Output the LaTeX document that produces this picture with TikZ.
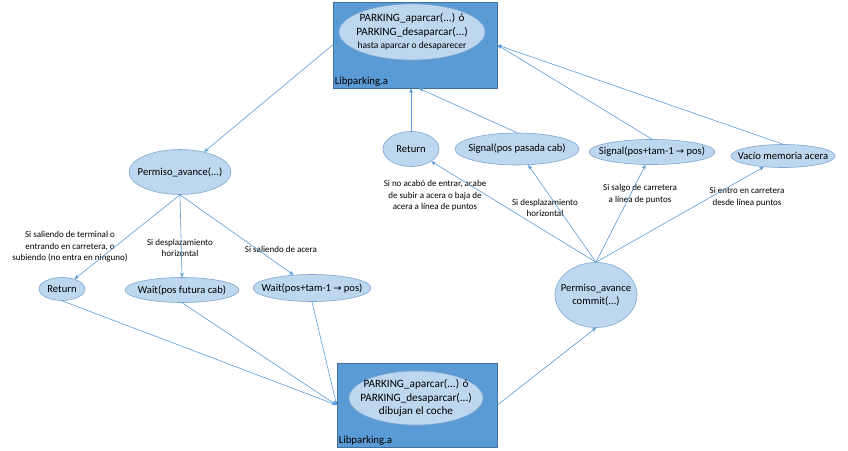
\documentclass[tikz,border=0pt]{standalone}
\usepackage{fontspec}
\setmainfont{Carlito}
\newfontfamily\arrowfont{DejaVu Sans}
\usetikzlibrary{shapes.geometric,arrows.meta,calc}
\definecolor{boxblue}{HTML}{5B9BD5}
\definecolor{boxedge}{HTML}{41719C}
\definecolor{ellfill}{HTML}{BDD7EE}
\definecolor{elledge}{HTML}{7FA7D4}
\definecolor{linkc}{HTML}{5B9BD5}
\tikzset{
  libbox/.style={draw=boxedge, line width=0.8pt, fill=boxblue, rectangle, inner sep=0pt},
  oval/.style={ellipse, draw=elledge, line width=0.6pt, fill=ellfill, inner sep=0pt},
  ovaltext/.style={align=center, inner sep=0pt, font=\fontsize{10.6}{13}\selectfont},
  bigtext/.style={align=center, inner sep=0pt, font=\fontsize{11.2}{13.5}\selectfont},
  cond/.style={align=center, inner sep=0pt, font=\fontsize{9}{11.5}\selectfont},
  libtag/.style={anchor=south west, inner sep=2pt, font=\fontsize{10.8}{12}\selectfont},
  link/.style={draw=linkc, line width=0.6pt, -{Stealth[length=4.5pt,width=4pt]}},
}
\newcommand{\arr}{{\arrowfont\fontsize{9.5}{10}\selectfont →}}
\begin{document}
\begin{tikzpicture}[x=1pt,y=-1pt]
\useasboundingbox (0,0) rectangle (848,450);
% library boxes
\node[libbox, minimum width=164pt, minimum height=86pt] (topbox) at (415,45) {};
\node[oval, minimum width=146pt, minimum height=56pt,
  label={[bigtext]center:{PARKING\_aparcar(...) ó\\PARKING\_desaparcar(...)\\{\fontsize{9.5}{11}\selectfont hasta aparcar o desaparecer}}}] (topoval) at (412,32) {};
\node[libtag] (toptag) at (topbox.south west) {Libparking.a};

\node[libbox, minimum width=160pt, minimum height=84pt] (botbox) at (417,405) {};
\node[oval, minimum width=134pt, minimum height=54pt,
  label={[bigtext]center:{PARKING\_aparcar(...) ó\\PARKING\_desaparcar(...)\\dibujan el coche}}] (botoval) at (416,398) {};
\node[libtag] (bottag) at (botbox.south west) {Libparking.a};

% left branch
\node[oval, minimum width=102pt, minimum height=45pt, label={[ovaltext]center:{Permiso\_avance(...)}}] (perm) at (180,172) {};
\node[oval, minimum width=46pt, minimum height=23pt, label={[ovaltext]center:{Return}}] (retl) at (62,289) {};
\node[oval, minimum width=114pt, minimum height=25pt, label={[ovaltext]center:{Wait(pos futura cab)}}] (waitl) at (182,290) {};
\node[oval, minimum width=118pt, minimum height=27pt, label={[ovaltext]center:{Wait(pos+tam-1 \arr{} pos)}}] (waitr) at (312,288) {};

% right branch
\node[oval, minimum width=82pt, minimum height=65pt, label={[ovaltext]center:{Permiso\_avance\\commit(...)}}] (commit) at (596,295) {};
\node[oval, minimum width=56pt, minimum height=35pt, label={[ovaltext]center:{Return}}] (retr) at (411,149) {};
\node[oval, minimum width=124pt, minimum height=32pt, label={[ovaltext]center:{Signal(pos pasada cab)}}] (sigp) at (517,149) {};
\node[oval, minimum width=126pt, minimum height=25pt, label={[ovaltext]center:{Signal(pos+tam-1 \arr{} pos)}}] (sigt) at (652,152) {};
\node[oval, minimum width=104pt, minimum height=23pt, label={[ovaltext]center:{Vacío memoria acera}}] (vac) at (783,156) {};

% conditions
\node[cond] (c1) at (70,247) {Si saliendo de terminal o\\entrando en carretera, o\\subiendo (no entra en ninguno)};
\node[cond] (c2) at (180,248) {Si desplazamiento\\horizontal};
\node[cond] (c3) at (281,249) {Si saliendo de acera};
\node[cond] (c4) at (435,196) {Si no acabó de entrar, acabe\\de subir a acera o baja de\\acera a línea de puntos};
\node[cond] (c5) at (545,208) {Si desplazamiento\\horizontal};
\node[cond] (c6) at (640,194) {Si salgo de carretera\\a línea de puntos};
\node[cond] (c7) at (747,197) {Si entro en carretera\\desde línea puntos};

% connectors
\draw[link] (topbox.west) -- (perm);
\draw[link] (perm.south) -- (retl);
\draw[link] (perm.south) -- (waitl.north);
\draw[link] (perm.south) -- (waitr);
\draw[link] (retl.south) -- (botbox.west);
\draw[link] (waitl.south) -- (botbox.west);
\draw[link] (waitr.south) -- (botbox.west);
\draw[link] (botbox.east) -- (commit.south);
\draw[link] (commit.north) -- (retr);
\draw[link] (commit.north) -- (sigp);
\draw[link] (commit.north) -- (sigt);
\draw[link] (commit.north) -- (vac);
\draw[link] (retr.north) -- (retr.north |- topbox.south);
\draw[link] (sigp.north) -- ($(topbox.south)+(4,0)$);
\draw[link] (sigt.north) -- (topbox.east);
\draw[link] (vac.north) -- (topbox.east);
\end{tikzpicture}
\end{document}
